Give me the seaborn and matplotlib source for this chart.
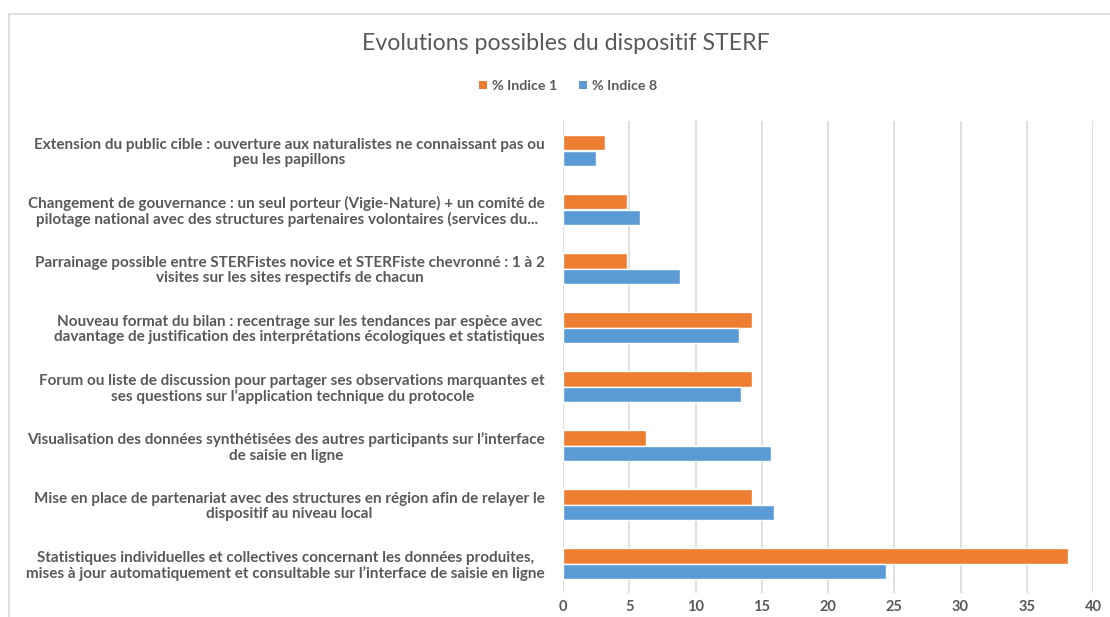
import matplotlib
matplotlib.use("Agg")
import matplotlib.pyplot as plt
from matplotlib.lines import Line2D
from matplotlib.patches import Patch
import seaborn as sns
import pandas as pd

# Proposed evolutions (top to bottom)
categories = [
    "Extension du public cible : ouverture aux naturalistes ne connaissant pas ou\npeu les papillons",
    "Changement de gouvernance : un seul porteur (Vigie-Nature) + un comité de\npilotage national avec des structures partenaires volontaires (services du...",
    "Parrainage possible entre STERFistes novice et STERFiste chevronné : 1 à 2\nvisites sur les sites respectifs de chacun",
    "Nouveau format du bilan : recentrage sur les tendances par espèce avec\ndavantage de justification des interprétations écologiques et statistiques",
    "Forum ou liste de discussion pour partager ses observations marquantes et\nses questions sur l\u2019application technique du protocole",
    "Visualisation des données synthétisées des autres participants sur l\u2019interface\nde saisie en ligne",
    "Mise en place de partenariat avec des structures en région afin de relayer le\ndispositif au niveau local",
    "Statistiques individuelles et collectives concernant les données produites,\nmises à jour automatiquement et consultable sur l\u2019interface de saisie en ligne",
]
indice_1 = [3.2, 4.8, 4.8, 14.3, 14.3, 6.3, 14.3, 38.1]
indice_8 = [2.5, 5.8, 8.8, 13.3, 13.4, 15.7, 15.9, 24.4]
series_names = ["% Indice 1", "% Indice 8"]
x_ticks = [0, 5, 10, 15, 20, 25, 30, 35, 40]

df = pd.DataFrame({
    "categorie": categories * 2,
    "valeur": indice_1 + indice_8,
    "serie": [series_names[0]] * len(categories) + [series_names[1]] * len(categories),
})

ORANGE = "#ED7D31"
BLUE = "#5B9BD5"
GREY_TXT = "#595959"
GRID = "#D9D9D9"

sns.set_theme(style="white")
plt.rcParams["font.family"] = ["Lato", "DejaVu Sans"]

fig = plt.figure(figsize=(11.1, 6.17), dpi=100)
ax = fig.add_axes([563 / 1110, 1 - 593 / 617, (1093 - 563) / 1110, (593 - 121) / 617])

sns.barplot(
    data=df, y="categorie", x="valeur", hue="serie",
    hue_order=series_names, order=categories,
    palette=[ORANGE, BLUE], orient="h", width=0.51,
    saturation=1, legend=False, ax=ax,
)

ax.set_xlim(0, 40)
ax.set_xticks(x_ticks)
ax.set_xticklabels([str(t) for t in x_ticks])
ax.set_xlabel("")
ax.set_ylabel("")
ax.set_axisbelow(True)
ax.xaxis.grid(True, color=GRID, linewidth=1.2)
ax.yaxis.grid(False)
for s in ax.spines.values():
    s.set_visible(False)

ax.tick_params(axis="x", length=0, pad=5, labelsize=10.5, labelcolor=GREY_TXT)
ax.tick_params(axis="y", length=0, pad=13, labelsize=11.0, labelcolor=GREY_TXT)
for t in ax.get_xticklabels():
    t.set_fontweight("bold")
for t in ax.get_yticklabels():
    t.set_fontweight("bold")
    t.set_multialignment("center")
    t.set_linespacing(1.1)

# Title
fig.text(566 / 1110, 1 - 44 / 617, "Evolutions possibles du dispositif STERF",
         ha="center", va="center", fontsize=16.7, color=GREY_TXT)

# Legend
handles = [Patch(facecolor=ORANGE, edgecolor="none"), Patch(facecolor=BLUE, edgecolor="none")]
fig.legend(handles, series_names, loc="center", bbox_to_anchor=(568 / 1110, 1 - 86 / 617),
           ncol=2, frameon=False, handlelength=0.55, handleheight=0.55, handletextpad=0.35,
           columnspacing=1.5, prop={"size": 10.3, "weight": "bold"}, labelcolor=GREY_TXT)

# Chart border
fig.add_artist(Line2D([9 / 1110, 9 / 1110], [0, 1 - 14 / 617], color=GRID, linewidth=1.2,
                      transform=fig.transFigure))
fig.add_artist(Line2D([9 / 1110, 1], [1 - 14 / 617, 1 - 14 / 617], color=GRID, linewidth=1.2,
                      transform=fig.transFigure))

fig.savefig("out.png", dpi=100, facecolor="white")
